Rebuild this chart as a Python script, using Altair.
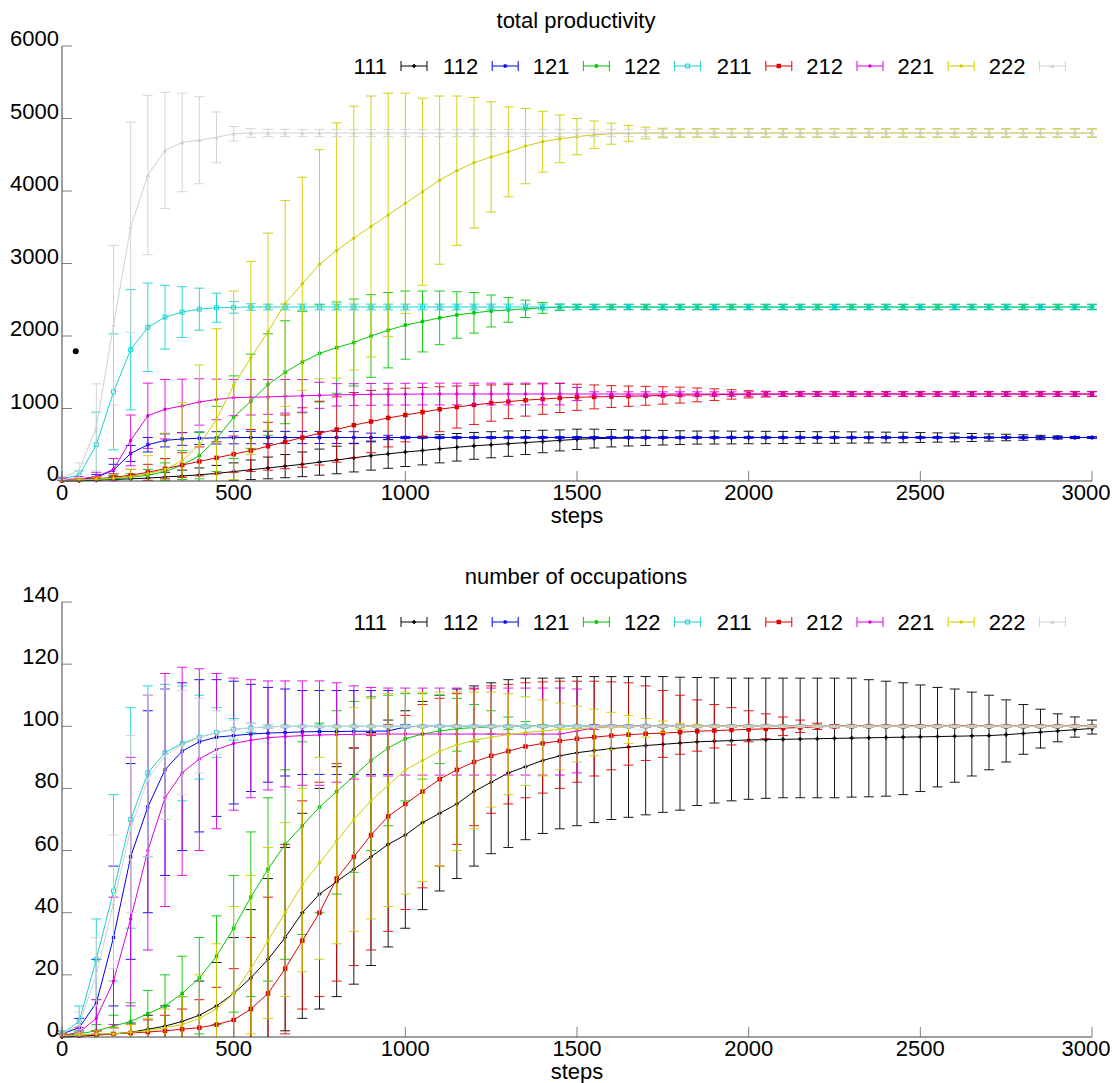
import altair as alt
import pandas as pd

STEPS = list(range(0, 3001, 50))
SERIES = ["111", "112", "121", "122", "211", "212", "221", "222"]
COLORS = ["#000000", "#0000ee", "#00c800", "#19d2d2", "#dd0000", "#dd00dd", "#cccc00", "#d0d0d0"]
SHAPES = ["cross", "cross", "square", "square", "square", "circle", "circle", "triangle-up"]
ANGLES = [0, 45, 0, 0, 0, 0, 0, 0]
FILLED = [True, True, True, False, True, True, True, True]
SIZES = [16, 16, 12, 16, 20, 12, 12, 18]

X_TICKS = [0, 500, 1000, 1500, 2000, 2500, 3000]
P_TICKS = [0, 1000, 2000, 3000, 4000, 5000, 6000]
O_TICKS = [0, 20, 40, 60, 80, 100, 120, 140]

# ---------------- total productivity: mean and spread ----------------
P111_MEAN = [0, 5, 10, 20, 30, 40, 55, 70, 85, 105,
             130, 155, 180, 205, 230, 260, 290, 320, 350, 375,
             400, 420, 445, 465, 485, 500, 515, 530, 545, 560,
             575, 585, 590, 593, 595, 597, 598, 599, 600, 600,
             600, 600, 600, 600, 600, 600, 600, 600, 600, 600,
             600, 600, 600, 600, 600, 600, 600, 600, 600, 600,
             600]
P111_SD = [5, 8, 15, 25, 40, 50, 65, 80, 95, 110,
           120, 135, 150, 160, 170, 180, 190, 195, 200, 200,
           200, 198, 195, 190, 185, 180, 175, 165, 155, 145,
           140, 130, 120, 110, 105, 100, 95, 90, 90, 88,
           86, 85, 84, 82, 80, 80, 78, 76, 74, 72,
           68, 64, 60, 55, 50, 45, 38, 30, 22, 15,
           10]
P112_MEAN = [10, 20, 50, 150, 380, 500, 560, 580, 590, 595,
             598, 600, 600, 600, 600, 600, 600, 600, 600, 600,
             600, 600, 600, 600, 600, 600, 600, 600, 600, 600,
             600, 600, 600, 600, 600, 600, 600, 600, 600, 600,
             600, 600, 600, 600, 600, 600, 600, 600, 600, 600,
             600, 600, 600, 600, 600, 600, 600, 600, 600, 600,
             600]
P112_SD = [10, 15, 40, 80, 110, 100, 90, 88, 86, 85,
           85, 85, 85, 84, 84, 83, 82, 80, 60, 30,
           15, 12, 12, 12, 12, 12, 12, 12, 12, 12,
           12, 12, 12, 12, 12, 12, 12, 12, 12, 12,
           12, 12, 12, 12, 12, 12, 12, 12, 12, 12,
           12, 12, 12, 12, 12, 12, 12, 12, 12, 12,
           12]
P121_MEAN = [10, 15, 20, 30, 50, 80, 130, 220, 350, 580,
             880, 1100, 1330, 1500, 1640, 1760, 1840, 1910, 2000, 2080,
             2150, 2200, 2250, 2290, 2320, 2345, 2360, 2375, 2388, 2395,
             2400, 2400, 2400, 2400, 2400, 2400, 2400, 2400, 2400, 2400,
             2400, 2400, 2400, 2400, 2400, 2400, 2400, 2400, 2400, 2400,
             2400, 2400, 2400, 2400, 2400, 2400, 2400, 2400, 2400, 2400,
             2400]
P121_SD = [10, 10, 20, 30, 50, 80, 120, 200, 320, 450,
           570, 650, 700, 710, 700, 670, 630, 600, 570, 520,
           470, 420, 370, 320, 280, 220, 170, 120, 75, 45,
           35, 35, 35, 35, 35, 35, 35, 35, 35, 35,
           35, 35, 35, 35, 35, 35, 35, 35, 35, 35,
           35, 35, 35, 35, 35, 35, 35, 35, 35, 35,
           35]
P122_MEAN = [30, 80, 500, 1230, 1810, 2120, 2260, 2330, 2370, 2390,
             2395, 2400, 2400, 2400, 2400, 2400, 2400, 2400, 2400, 2400,
             2400, 2400, 2400, 2400, 2400, 2400, 2400, 2400, 2400, 2400,
             2400, 2400, 2400, 2400, 2400, 2400, 2400, 2400, 2400, 2400,
             2400, 2400, 2400, 2400, 2400, 2400, 2400, 2400, 2400, 2400,
             2400, 2400, 2400, 2400, 2400, 2400, 2400, 2400, 2400, 2400,
             2400]
P122_SD = [20, 60, 450, 800, 830, 610, 440, 350, 290, 200,
           80, 45, 40, 40, 40, 40, 40, 40, 40, 40,
           40, 40, 40, 40, 40, 40, 40, 40, 40, 40,
           40, 40, 40, 40, 40, 40, 40, 40, 40, 40,
           40, 40, 40, 40, 40, 40, 40, 40, 40, 40,
           40, 40, 40, 40, 40, 40, 40, 40, 40, 40,
           40]
P211_MEAN = [10, 15, 30, 50, 80, 120, 170, 220, 270, 320,
             370, 420, 480, 540, 600, 660, 710, 770, 820, 870,
             910, 950, 990, 1020, 1050, 1075, 1095, 1115, 1130, 1145,
             1155, 1160, 1165, 1170, 1175, 1180, 1185, 1188, 1191, 1194,
             1196, 1198, 1200, 1200, 1200, 1200, 1200, 1200, 1200, 1200,
             1200, 1200, 1200, 1200, 1200, 1200, 1200, 1200, 1200, 1200,
             1200]
P211_SD = [10, 15, 30, 50, 80, 110, 140, 170, 200, 220,
           250, 290, 330, 370, 410, 440, 450, 450, 430, 400,
           370, 340, 310, 290, 270, 250, 235, 220, 210, 200,
           180, 165, 150, 140, 130, 120, 110, 95, 80, 65,
           50, 40, 35, 35, 35, 35, 35, 35, 35, 35,
           35, 35, 35, 35, 35, 35, 35, 35, 35, 35,
           35]
P212_MEAN = [20, 30, 60, 160, 560, 900, 990, 1035, 1090, 1125,
             1150, 1155, 1160, 1168, 1175, 1182, 1188, 1192, 1195, 1197,
             1198, 1199, 1200, 1200, 1200, 1200, 1200, 1200, 1200, 1200,
             1200, 1200, 1200, 1200, 1200, 1200, 1200, 1200, 1200, 1200,
             1200, 1200, 1200, 1200, 1200, 1200, 1200, 1200, 1200, 1200,
             1200, 1200, 1200, 1200, 1200, 1200, 1200, 1200, 1200, 1200,
             1200]
P212_SD = [20, 30, 60, 150, 350, 450, 410, 370, 320, 280,
           250, 245, 240, 232, 225, 180, 155, 150, 150, 150,
           150, 150, 150, 150, 150, 150, 150, 150, 150, 150,
           90, 30, 30, 30, 30, 30, 30, 30, 30, 30,
           30, 30, 30, 30, 30, 30, 30, 30, 30, 30,
           30, 30, 30, 30, 30, 30, 30, 30, 30, 30,
           30]
P221_MEAN = [10, 15, 25, 40, 60, 100, 160, 280, 500, 850,
             1320, 1700, 2060, 2450, 2720, 2990, 3180, 3350, 3510, 3670,
             3830, 3990, 4150, 4280, 4390, 4470, 4540, 4620, 4680, 4720,
             4750, 4775, 4790, 4795, 4800, 4800, 4800, 4800, 4800, 4800,
             4800, 4800, 4800, 4800, 4800, 4800, 4800, 4800, 4800, 4800,
             4800, 4800, 4800, 4800, 4800, 4800, 4800, 4800, 4800, 4800,
             4800]
P221_SD = [10, 15, 30, 50, 100, 250, 500, 800, 1100, 1250,
           1300, 1330, 1360, 1420, 1470, 1580, 1760, 1820, 1800, 1680,
           1520, 1290, 1160, 1030, 900, 760, 620, 520, 420, 330,
           250, 190, 145, 110, 80, 65, 60, 60, 60, 60,
           60, 60, 60, 60, 60, 60, 60, 60, 60, 60,
           60, 60, 60, 60, 60, 60, 60, 60, 60, 60,
           60]
P222_MEAN = [40, 150, 740, 2150, 3500, 4220, 4560, 4670, 4700, 4740,
             4790, 4800, 4800, 4800, 4800, 4800, 4800, 4800, 4800, 4800,
             4800, 4800, 4800, 4800, 4800, 4800, 4800, 4800, 4800, 4800,
             4800, 4800, 4800, 4800, 4800, 4800, 4800, 4800, 4800, 4800,
             4800, 4800, 4800, 4800, 4800, 4800, 4800, 4800, 4800, 4800,
             4800, 4800, 4800, 4800, 4800, 4800, 4800, 4800, 4800, 4800,
             4800]
P222_SD = [20, 100, 600, 1100, 1450, 1100, 800, 680, 600, 350,
           100, 60, 50, 50, 50, 50, 50, 50, 50, 50,
           50, 50, 50, 50, 50, 50, 50, 50, 50, 50,
           50, 50, 50, 50, 50, 50, 50, 50, 50, 50,
           50, 50, 50, 50, 50, 50, 50, 50, 50, 50,
           50, 50, 50, 50, 50, 50, 50, 50, 50, 50,
           50]

# ---------------- number of occupations: mean, low, high ----------------
O111_MEAN = [0, 0.3, 0.6, 1, 1.5, 2.5, 3.5, 5, 7, 10,
             14, 19, 25, 32, 40, 46, 50, 54, 58, 62,
             65, 69, 72, 75, 79, 82, 85, 87, 89, 90.5,
             91.5, 92.2, 92.8, 93.3, 93.8, 94.2, 94.6, 95, 95.2, 95.4,
             95.6, 95.7, 95.8, 95.9, 96, 96.1, 96.2, 96.3, 96.4, 96.5,
             96.6, 96.7, 96.8, 96.9, 97, 97.3, 97.7, 98.1, 98.5, 98.9,
             99.3]
O111_LO = [0, 0, 0, 0, 0, 0, 0, 0, 0, 0,
           0, 0, 0, 2, 6, 9, 13, 17, 23, 29,
           35, 41, 47, 51, 55, 59, 61, 63.5, 65.5, 67,
           68, 69, 70, 70.7, 71.5, 72.3, 73, 74.5, 75.3, 76,
           76.5, 76.8, 77, 77, 77, 77, 77.2, 77.3, 77.5, 78,
           79, 80.5, 82, 84, 86, 88.5, 91, 93, 95, 96.5,
           97.5]
O111_HI = [1, 1.5, 2, 3, 4.5, 7, 10, 13, 18, 24,
           32, 41, 51, 61, 72, 80, 87, 93, 98, 102,
           105, 108, 110, 112, 113, 114, 115, 115.5, 115.5, 115.5,
           116, 116, 116, 116, 116, 116, 115.8, 115.7, 115.6, 115.5,
           115.5, 115.5, 115.5, 115.5, 115.5, 115.5, 115.5, 115, 114.5, 114,
           113.3, 112.5, 112, 111, 110, 108.5, 107, 105.5, 104, 103,
           102]
O112_MEAN = [1, 3, 11, 32, 58, 74, 86, 92, 95, 96.5,
             97, 97.5, 97.8, 98, 98.2, 98.3, 98.3, 98.4, 98.4, 98.5,
             99.8, 100, 100, 100, 100, 100, 100, 100, 100, 100,
             100, 100, 100, 100, 100, 100, 100, 100, 100, 100,
             100, 100, 100, 100, 100, 100, 100, 100, 100, 100,
             100, 100, 100, 100, 100, 100, 100, 100, 100, 100,
             100]
O112_LO = [0, 0.5, 2, 10, 25, 40, 52, 60, 66, 71,
           75, 79, 82, 84, 84.5, 84.5, 84.5, 84.5, 84.5, 84.5,
           99.5, 99.7, 99.7, 99.7, 99.7, 99.7, 99.7, 99.7, 99.7, 99.7,
           99.7, 99.7, 99.7, 99.7, 99.7, 99.7, 99.7, 99.7, 99.7, 99.7,
           99.7, 99.7, 99.7, 99.7, 99.7, 99.7, 99.7, 99.7, 99.7, 99.7,
           99.7, 99.7, 99.7, 99.7, 99.7, 99.7, 99.7, 99.7, 99.7, 99.7,
           99.7]
O112_HI = [2, 6, 25, 55, 88, 105, 112, 114, 115, 115,
           114.5, 113.5, 112.5, 112, 111.5, 111.5, 111.5, 111.5, 111.5, 111.5,
           100.5, 100.3, 100.3, 100.3, 100.3, 100.3, 100.3, 100.3, 100.3, 100.3,
           100.3, 100.3, 100.3, 100.3, 100.3, 100.3, 100.3, 100.3, 100.3, 100.3,
           100.3, 100.3, 100.3, 100.3, 100.3, 100.3, 100.3, 100.3, 100.3, 100.3,
           100.3, 100.3, 100.3, 100.3, 100.3, 100.3, 100.3, 100.3, 100.3, 100.3,
           100.3]
O121_MEAN = [0.5, 1, 2, 3.5, 5, 7.5, 10, 14, 19, 26,
             35, 45, 54, 62, 68, 74, 79, 84, 89, 93,
             96, 97.5, 98.5, 99.2, 99.6, 99.8, 100, 100, 100, 100,
             100, 100, 100, 100, 100, 100, 100, 100, 100, 100,
             100, 100, 100, 100, 100, 100, 100, 100, 100, 100,
             100, 100, 100, 100, 100, 100, 100, 100, 100, 100,
             100]
O121_LO = [0, 0, 0, 0, 0, 0, 0, 0, 1, 4,
           8, 13, 18, 25, 33, 40, 46, 53, 60, 68,
           76, 83, 88, 92, 95, 97.5, 99, 99.5, 99.7, 99.7,
           99.7, 99.7, 99.7, 99.7, 99.7, 99.7, 99.7, 99.7, 99.7, 99.7,
           99.7, 99.7, 99.7, 99.7, 99.7, 99.7, 99.7, 99.7, 99.7, 99.7,
           99.7, 99.7, 99.7, 99.7, 99.7, 99.7, 99.7, 99.7, 99.7, 99.7,
           99.7]
O121_HI = [1, 2, 4, 7, 11, 15, 20, 26, 32, 39,
           52, 66, 77, 86, 95, 101, 105, 108, 109.5, 110,
           110.5, 110.5, 110, 109, 107, 105, 103, 101.5, 100.5, 100.3,
           100.3, 100.3, 100.3, 100.3, 100.3, 100.3, 100.3, 100.3, 100.3, 100.3,
           100.3, 100.3, 100.3, 100.3, 100.3, 100.3, 100.3, 100.3, 100.3, 100.3,
           100.3, 100.3, 100.3, 100.3, 100.3, 100.3, 100.3, 100.3, 100.3, 100.3,
           100.3]
O122_MEAN = [1, 5, 25, 47, 70, 85, 91.5, 94.5, 96.5, 98,
             99, 99.5, 99.8, 100, 100, 100, 100, 100, 100, 100,
             100, 100, 100, 100, 100, 100, 100, 100, 100, 100,
             100, 100, 100, 100, 100, 100, 100, 100, 100, 100,
             100, 100, 100, 100, 100, 100, 100, 100, 100, 100,
             100, 100, 100, 100, 100, 100, 100, 100, 100, 100,
             100]
O122_LO = [0, 1, 12, 18, 35, 58, 70, 76, 83, 90,
           95.5, 98, 99.3, 99.7, 99.7, 99.7, 99.7, 99.7, 99.7, 99.7,
           99.7, 99.7, 99.7, 99.7, 99.7, 99.7, 99.7, 99.7, 99.7, 99.7,
           99.7, 99.7, 99.7, 99.7, 99.7, 99.7, 99.7, 99.7, 99.7, 99.7,
           99.7, 99.7, 99.7, 99.7, 99.7, 99.7, 99.7, 99.7, 99.7, 99.7,
           99.7, 99.7, 99.7, 99.7, 99.7, 99.7, 99.7, 99.7, 99.7, 99.7,
           99.7]
O122_HI = [2, 10, 38, 78, 106, 113, 113.5, 113, 110, 106,
           102.5, 101, 100.5, 100.3, 100.3, 100.3, 100.3, 100.3, 100.3, 100.3,
           100.3, 100.3, 100.3, 100.3, 100.3, 100.3, 100.3, 100.3, 100.3, 100.3,
           100.3, 100.3, 100.3, 100.3, 100.3, 100.3, 100.3, 100.3, 100.3, 100.3,
           100.3, 100.3, 100.3, 100.3, 100.3, 100.3, 100.3, 100.3, 100.3, 100.3,
           100.3, 100.3, 100.3, 100.3, 100.3, 100.3, 100.3, 100.3, 100.3, 100.3,
           100.3]
O211_MEAN = [0.5, 0.5, 0.8, 1, 1.3, 1.6, 2, 2.5, 3, 4,
             5.5, 9, 14, 22, 31, 40, 51, 58, 65, 71,
             75, 79, 83, 86, 88.5, 90.5, 92, 93.5, 94.5, 95.3,
             96, 96.5, 97, 97.3, 97.6, 97.8, 98.1, 98.4, 98.6, 98.8,
             99, 99.2, 99.4, 99.6, 99.8, 100, 100, 100, 100, 100,
             100, 100, 100, 100, 100, 100, 100, 100, 100, 100,
             100]
O211_LO = [0, 0, 0, 0, 0, 0, 0, 0, 0, 0,
           0, 0, 0, 1, 9, 13, 18, 23, 28, 34,
           41, 48, 55, 62, 68, 72, 75, 77, 78.5, 80,
           82, 84, 86, 87.5, 89, 90, 91, 92, 93, 94,
           95, 96, 97, 98, 99, 99.5, 99.7, 99.7, 99.7, 99.7,
           99.7, 99.7, 99.7, 99.7, 99.7, 99.7, 99.7, 99.7, 99.7, 99.7,
           99.7]
O211_HI = [1, 1.5, 2, 3, 4, 5.5, 7, 9, 12, 16,
           22, 32, 45, 62, 76, 82, 88, 93, 97, 100.5,
           103.5, 107, 109, 110.5, 112, 113, 113.5, 114, 114.3, 114.5,
           114.5, 114.5, 114.3, 114, 113, 111.5, 110, 108.5, 107, 106,
           105, 104, 103, 102, 101, 100.5, 100.3, 100.3, 100.3, 100.3,
           100.3, 100.3, 100.3, 100.3, 100.3, 100.3, 100.3, 100.3, 100.3, 100.3,
           100.3]
O212_MEAN = [0.5, 1.5, 6, 18, 38, 60, 77, 85, 89.5, 92.5,
             94.5, 95.5, 96.3, 96.7, 97, 97.2, 97.3, 97.4, 97.5, 97.5,
             97.5, 97.5, 97.5, 97.5, 97.5, 97.5, 97.5, 97.5, 97.5, 97.5,
             98.5, 99.5, 100, 100, 100, 100, 100, 100, 100, 100,
             100, 100, 100, 100, 100, 100, 100, 100, 100, 100,
             100, 100, 100, 100, 100, 100, 100, 100, 100, 100,
             100]
O212_LO = [0, 0.2, 1, 4, 10, 28, 42, 52, 60, 67,
           73, 77, 79.5, 80.5, 81, 81, 82, 83, 84, 84,
           84.3, 84.3, 84.3, 84.3, 84.3, 84.3, 84.3, 84.3, 84.3, 84.3,
           85, 99, 99.7, 99.7, 99.7, 99.7, 99.7, 99.7, 99.7, 99.7,
           99.7, 99.7, 99.7, 99.7, 99.7, 99.7, 99.7, 99.7, 99.7, 99.7,
           99.7, 99.7, 99.7, 99.7, 99.7, 99.7, 99.7, 99.7, 99.7, 99.7,
           99.7]
O212_HI = [1, 3, 12, 45, 90, 110, 117, 119, 118.5, 117,
           115.5, 115, 114.6, 114.6, 114.6, 114.6, 114, 113, 112.5, 112.3,
           112.3, 112.3, 112.3, 112.3, 112.3, 112.3, 112.3, 112.3, 112.3, 112.3,
           112, 100.5, 100.3, 100.3, 100.3, 100.3, 100.3, 100.3, 100.3, 100.3,
           100.3, 100.3, 100.3, 100.3, 100.3, 100.3, 100.3, 100.3, 100.3, 100.3,
           100.3, 100.3, 100.3, 100.3, 100.3, 100.3, 100.3, 100.3, 100.3, 100.3,
           100.3]
O221_MEAN = [0.5, 0.5, 1, 1, 1.5, 2, 3, 4, 6, 9,
             14, 22, 31, 40, 49, 56, 63, 70, 76, 81,
             86, 89, 92, 94, 95.5, 96.5, 97.3, 98, 98.5, 99,
             99.3, 99.5, 99.6, 99.8, 100, 100, 100, 100, 100, 100,
             100, 100, 100, 100, 100, 100, 100, 100, 100, 100,
             100, 100, 100, 100, 100, 100, 100, 100, 100, 100,
             100]
O221_LO = [0, 0, 0, 0, 0, 0, 0, 0, 0, 0,
           0, 1, 6, 13, 21, 25, 30, 34, 38, 42,
           46, 50, 55, 60, 67, 74, 78, 81, 84, 86,
           88.5, 90.5, 92.5, 94.5, 96.5, 98, 99, 99.7, 99.7, 99.7,
           99.7, 99.7, 99.7, 99.7, 99.7, 99.7, 99.7, 99.7, 99.7, 99.7,
           99.7, 99.7, 99.7, 99.7, 99.7, 99.7, 99.7, 99.7, 99.7, 99.7,
           99.7]
O221_HI = [1, 1.5, 2, 3, 4, 6, 9, 13, 20, 30,
           42, 52, 61, 69, 80, 90, 100, 106, 109, 110.5,
           111, 111, 111, 111, 111, 111, 110.5, 109.5, 108.5, 107.5,
           106.5, 105.5, 104.5, 103.5, 102.5, 101.7, 101, 100.6, 100.3, 100.3,
           100.3, 100.3, 100.3, 100.3, 100.3, 100.3, 100.3, 100.3, 100.3, 100.3,
           100.3, 100.3, 100.3, 100.3, 100.3, 100.3, 100.3, 100.3, 100.3, 100.3,
           100.3]
O222_MEAN = [1, 4, 20, 43, 67, 83, 90.5, 94, 96.5, 98,
             99, 99.5, 99.8, 100, 100, 100, 100, 100, 100, 100,
             100, 100, 100, 100, 100, 100, 100, 100, 100, 100,
             100, 100, 100, 100, 100, 100, 100, 100, 100, 100,
             100, 100, 100, 100, 100, 100, 100, 100, 100, 100,
             100, 100, 100, 100, 100, 100, 100, 100, 100, 100,
             100]
O222_LO = [0, 1, 10, 22, 40, 58, 70, 78, 85, 91,
           96, 98.5, 99.4, 99.7, 99.7, 99.7, 99.7, 99.7, 99.7, 99.7,
           99.7, 99.7, 99.7, 99.7, 99.7, 99.7, 99.7, 99.7, 99.7, 99.7,
           99.7, 99.7, 99.7, 99.7, 99.7, 99.7, 99.7, 99.7, 99.7, 99.7,
           99.7, 99.7, 99.7, 99.7, 99.7, 99.7, 99.7, 99.7, 99.7, 99.7,
           99.7, 99.7, 99.7, 99.7, 99.7, 99.7, 99.7, 99.7, 99.7, 99.7,
           99.7]
O222_HI = [2, 8, 32, 65, 97, 110, 112, 111.5, 109, 105,
           102, 101, 100.5, 100.3, 100.3, 100.3, 100.3, 100.3, 100.3, 100.3,
           100.3, 100.3, 100.3, 100.3, 100.3, 100.3, 100.3, 100.3, 100.3, 100.3,
           100.3, 100.3, 100.3, 100.3, 100.3, 100.3, 100.3, 100.3, 100.3, 100.3,
           100.3, 100.3, 100.3, 100.3, 100.3, 100.3, 100.3, 100.3, 100.3, 100.3,
           100.3, 100.3, 100.3, 100.3, 100.3, 100.3, 100.3, 100.3, 100.3, 100.3,
           100.3]

DOT_STEP = [40]
DOT_VALUE = [1790]

P_MEANS = [P111_MEAN, P112_MEAN, P121_MEAN, P122_MEAN, P211_MEAN, P212_MEAN, P221_MEAN, P222_MEAN]
P_SDS = [P111_SD, P112_SD, P121_SD, P122_SD, P211_SD, P212_SD, P221_SD, P222_SD]
O_MEANS = [O111_MEAN, O112_MEAN, O121_MEAN, O122_MEAN, O211_MEAN, O212_MEAN, O221_MEAN, O222_MEAN]
O_LOS = [O111_LO, O112_LO, O121_LO, O122_LO, O211_LO, O212_LO, O221_LO, O222_LO]
O_HIS = [O111_HI, O112_HI, O121_HI, O122_HI, O211_HI, O212_HI, O221_HI, O222_HI]

rows = []
for s, means, sds in zip(SERIES, P_MEANS, P_SDS):
    for st, m, sd in zip(STEPS, means, sds):
        raw_lo = m - sd
        rows.append({"series": s, "step": st, "mean": m, "lo": max(raw_lo, 0),
                     "hi": m + sd, "lo_cap": bool(raw_lo > 0)})
prod_df = pd.DataFrame(rows)

rows = []
for s, means, los, his in zip(SERIES, O_MEANS, O_LOS, O_HIS):
    for st, m, lo, hi in zip(STEPS, means, los, his):
        rows.append({"series": s, "step": st, "mean": m, "lo": lo, "hi": hi,
                     "lo_cap": bool(lo > 0)})
occ_df = pd.DataFrame(rows)

W, H = 1030, 435
FONT = "Liberation Sans"
FS = 22
ONE = pd.DataFrame({"k": [0]})
AXIS_COLOR = "#404040"
TICK_COLOR = "#808080"


def panel(df, ymax, yticks, title, dot=None, frame=False):
    xs = alt.Scale(domain=[0, 3000], nice=False, zero=False)
    ys = alt.Scale(domain=[0, ymax], nice=False, zero=False)
    X = alt.X("step:Q", scale=xs, axis=None)
    ytick_df = pd.DataFrame({"v": yticks, "t": [str(v) for v in yticks]})
    xtick_df = pd.DataFrame({"v": X_TICKS, "t": [str(v) for v in X_TICKS]})
    layers = []
    if frame:
        # invisible guide fixing the outer extent of the drawing
        layers.append(alt.Chart(ONE).mark_rule(strokeOpacity=0, color="#ffffff").encode(
            x=alt.value(-54), x2=alt.value(W + 18), y=alt.value(-38)))
    for i, s in enumerate(SERIES):
        c = COLORS[i]
        base = alt.Chart(df).transform_filter(alt.datum.series == s)
        layers.append(base.mark_rule(color=c, strokeWidth=1, opacity=0.9).encode(
            x=X, y=alt.Y("lo:Q", scale=ys, axis=None), y2="hi:Q"))
        layers.append(base.mark_rule(color=c, strokeWidth=1, opacity=0.9, xOffset=-5, x2Offset=5).encode(
            x=X, x2="step:Q", y=alt.Y("hi:Q", scale=ys, axis=None)))
        layers.append(base.transform_filter(alt.datum.lo_cap).mark_rule(
            color=c, strokeWidth=1, opacity=0.9, xOffset=-5, x2Offset=5).encode(
            x=X, x2="step:Q", y=alt.Y("lo:Q", scale=ys, axis=None)))
        layers.append(base.mark_line(color=c, strokeWidth=1).encode(
            x=X, y=alt.Y("mean:Q", scale=ys, axis=None)))
        layers.append(base.mark_point(color=c, shape=SHAPES[i], filled=FILLED[i], size=SIZES[i],
                                      angle=ANGLES[i], strokeWidth=1, opacity=1).encode(
            x=X, y=alt.Y("mean:Q", scale=ys, axis=None)))
        # key entry
        lab_right = 325 + 91.2 * i
        s0, s1 = lab_right + 14, lab_right + 40
        ly = 20
        layers.append(alt.Chart(ONE).mark_text(align="right", baseline="middle", fontSize=FS,
                                               font=FONT, color="#000000").encode(
            x=alt.value(lab_right), y=alt.value(ly + 1), text=alt.value(s)))
        layers.append(alt.Chart(ONE).mark_rule(color=c, strokeWidth=1).encode(
            x=alt.value(s0), x2=alt.value(s1), y=alt.value(ly)))
        layers.append(alt.Chart(ONE).mark_rule(color=c, strokeWidth=1).encode(
            x=alt.value(s0), y=alt.value(ly - 5), y2=alt.value(ly + 5)))
        layers.append(alt.Chart(ONE).mark_rule(color=c, strokeWidth=1).encode(
            x=alt.value(s1), y=alt.value(ly - 5), y2=alt.value(ly + 5)))
        layers.append(alt.Chart(ONE).mark_point(color=c, shape=SHAPES[i], filled=FILLED[i],
                                                size=SIZES[i], angle=ANGLES[i], strokeWidth=1,
                                                opacity=1).encode(
            x=alt.value((s0 + s1) / 2), y=alt.value(ly)))
    if dot is not None:
        layers.append(alt.Chart(dot).mark_circle(color="#000000", size=36, opacity=1).encode(
            x=alt.X("step:Q", scale=xs, axis=None), y=alt.Y("val:Q", scale=ys, axis=None)))
    # axes drawn by hand: inward ticks, left and bottom borders, tick labels
    layers.append(alt.Chart(ytick_df).mark_rule(color=TICK_COLOR, strokeWidth=1).encode(
        y=alt.Y("v:Q", scale=ys, axis=None), x=alt.value(0), x2=alt.value(10)))
    layers.append(alt.Chart(xtick_df).mark_rule(color=TICK_COLOR, strokeWidth=1).encode(
        x=alt.X("v:Q", scale=xs, axis=None), y=alt.value(H), y2=alt.value(H - 10)))
    layers.append(alt.Chart(ONE).mark_rule(color=AXIS_COLOR, strokeWidth=1).encode(
        x=alt.value(0), y=alt.value(0), y2=alt.value(H)))
    layers.append(alt.Chart(ONE).mark_rule(color=AXIS_COLOR, strokeWidth=1).encode(
        x=alt.value(0), x2=alt.value(W), y=alt.value(H)))
    layers.append(alt.Chart(ytick_df).mark_text(align="right", baseline="alphabetic", fontSize=FS,
                                                font=FONT, color="#000000").encode(
        y=alt.Y("v:Q", scale=ys, axis=None), x=alt.value(-3), text="t:N"))
    xlab = alt.Chart(xtick_df)
    layers.append(xlab.transform_filter(alt.datum.v < 3000).mark_text(
        align="center", baseline="top", fontSize=FS, font=FONT, color="#000000").encode(
        x=alt.X("v:Q", scale=xs, axis=None), y=alt.value(H + 2), text="t:N"))
    layers.append(xlab.transform_filter(alt.datum.v >= 3000).mark_text(
        align="center", baseline="top", fontSize=FS, font=FONT, color="#000000", dx=-6).encode(
        x=alt.X("v:Q", scale=xs, axis=None), y=alt.value(H + 2), text="t:N"))
    layers.append(alt.Chart(ONE).mark_text(align="center", baseline="alphabetic", fontSize=FS,
                                           font=FONT, color="#000000").encode(
        x=alt.value(514), y=alt.value(-18), text=alt.value(title)))
    layers.append(alt.Chart(ONE).mark_text(align="center", baseline="alphabetic", fontSize=FS,
                                           font=FONT, color="#000000").encode(
        x=alt.value(515), y=alt.value(H + 42), text=alt.value("steps")))
    return alt.layer(*layers).properties(width=W, height=H)


dot_df = pd.DataFrame({"step": DOT_STEP, "val": DOT_VALUE})
top = panel(prod_df, 6000, P_TICKS, "total productivity", dot=dot_df, frame=True)
bottom = panel(occ_df, 140, O_TICKS, "number of occupations")

chart = alt.vconcat(top, bottom, spacing=121, bounds="flush").properties(
    padding={"left": 0, "top": 0, "right": 0, "bottom": 0},
    background="#ffffff",
).configure_view(stroke=None)

chart.save("out.html", embed_options={"renderer": "svg", "actions": False})
